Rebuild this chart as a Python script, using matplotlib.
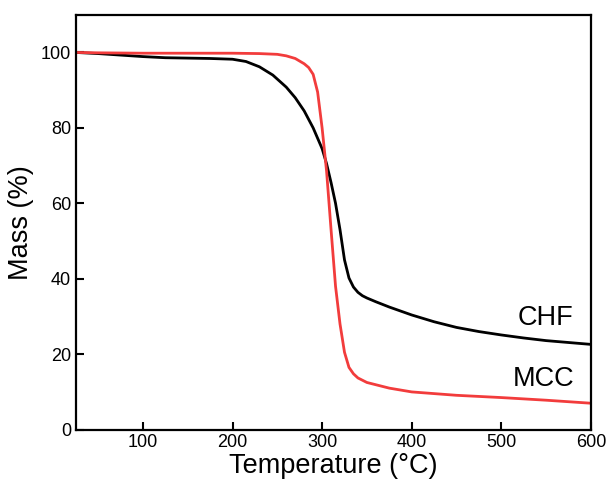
import matplotlib.pyplot as plt

plt.rcParams['font.family'] = ['Liberation Sans', 'DejaVu Sans']

# CHF (black)
chf_T = [25, 50, 75, 100, 125, 150, 175, 200, 215, 230, 245, 260, 270, 280, 290,
         300, 305, 310, 315, 320, 325, 330, 335, 340, 345, 350, 360, 375, 400, 425,
         450, 475, 500, 525, 550, 575, 600]
chf_M = [100, 99.7, 99.3, 98.9, 98.6, 98.5, 98.4, 98.2, 97.6, 96.2, 94.0, 90.8,
         88.0, 84.5, 80.0, 74.5, 70.5, 65.5, 60.0, 53.0, 45.0, 40.2, 37.8, 36.4,
         35.5, 34.9, 33.9, 32.5, 30.4, 28.6, 27.1, 26.0, 25.1, 24.3, 23.6, 23.1, 22.6]

# MCC (red)
mcc_T = [25, 50, 100, 150, 200, 230, 250, 260, 270, 280, 285, 290, 295, 300, 305,
         310, 315, 320, 325, 330, 335, 340, 350, 375, 400, 450, 500, 550, 600]
mcc_M = [100, 99.9, 99.8, 99.8, 99.8, 99.7, 99.5, 99.1, 98.4, 97.0, 96.0, 94.2,
         89.5, 80.0, 68.5, 53.0, 38.0, 28.0, 20.5, 16.5, 14.8, 13.7, 12.5, 11.0,
         10.0, 9.1, 8.5, 7.8, 7.0]

fig, ax = plt.subplots(figsize=(6.06, 4.91), dpi=100)
fig.subplots_adjust(left=0.125, right=0.975, top=0.97, bottom=0.125)

ax.plot(chf_T, chf_M, color='black', lw=2.0)
ax.plot(mcc_T, mcc_M, color='#f23c3c', lw=2.0)

ax.text(549, 29.7, 'CHF', fontsize=19.5, ha='center', va='center')
ax.text(547, 13.5, 'MCC', fontsize=19.5, ha='center', va='center')

ax.set_xlim(25, 600)
ax.set_ylim(0, 110)
ax.set_xticks([100, 200, 300, 400, 500, 600])
ax.set_yticks([0, 20, 40, 60, 80, 100])
ax.tick_params(direction='in', labelsize=13, width=1.5, length=6)
for s in ax.spines.values():
    s.set_linewidth(1.6)

ax.set_xlabel('Temperature (°C)', fontsize=19.5, labelpad=1)
ax.set_ylabel('Mass (%)', fontsize=19.5, labelpad=5)

plt.savefig('out.png', dpi=100)
